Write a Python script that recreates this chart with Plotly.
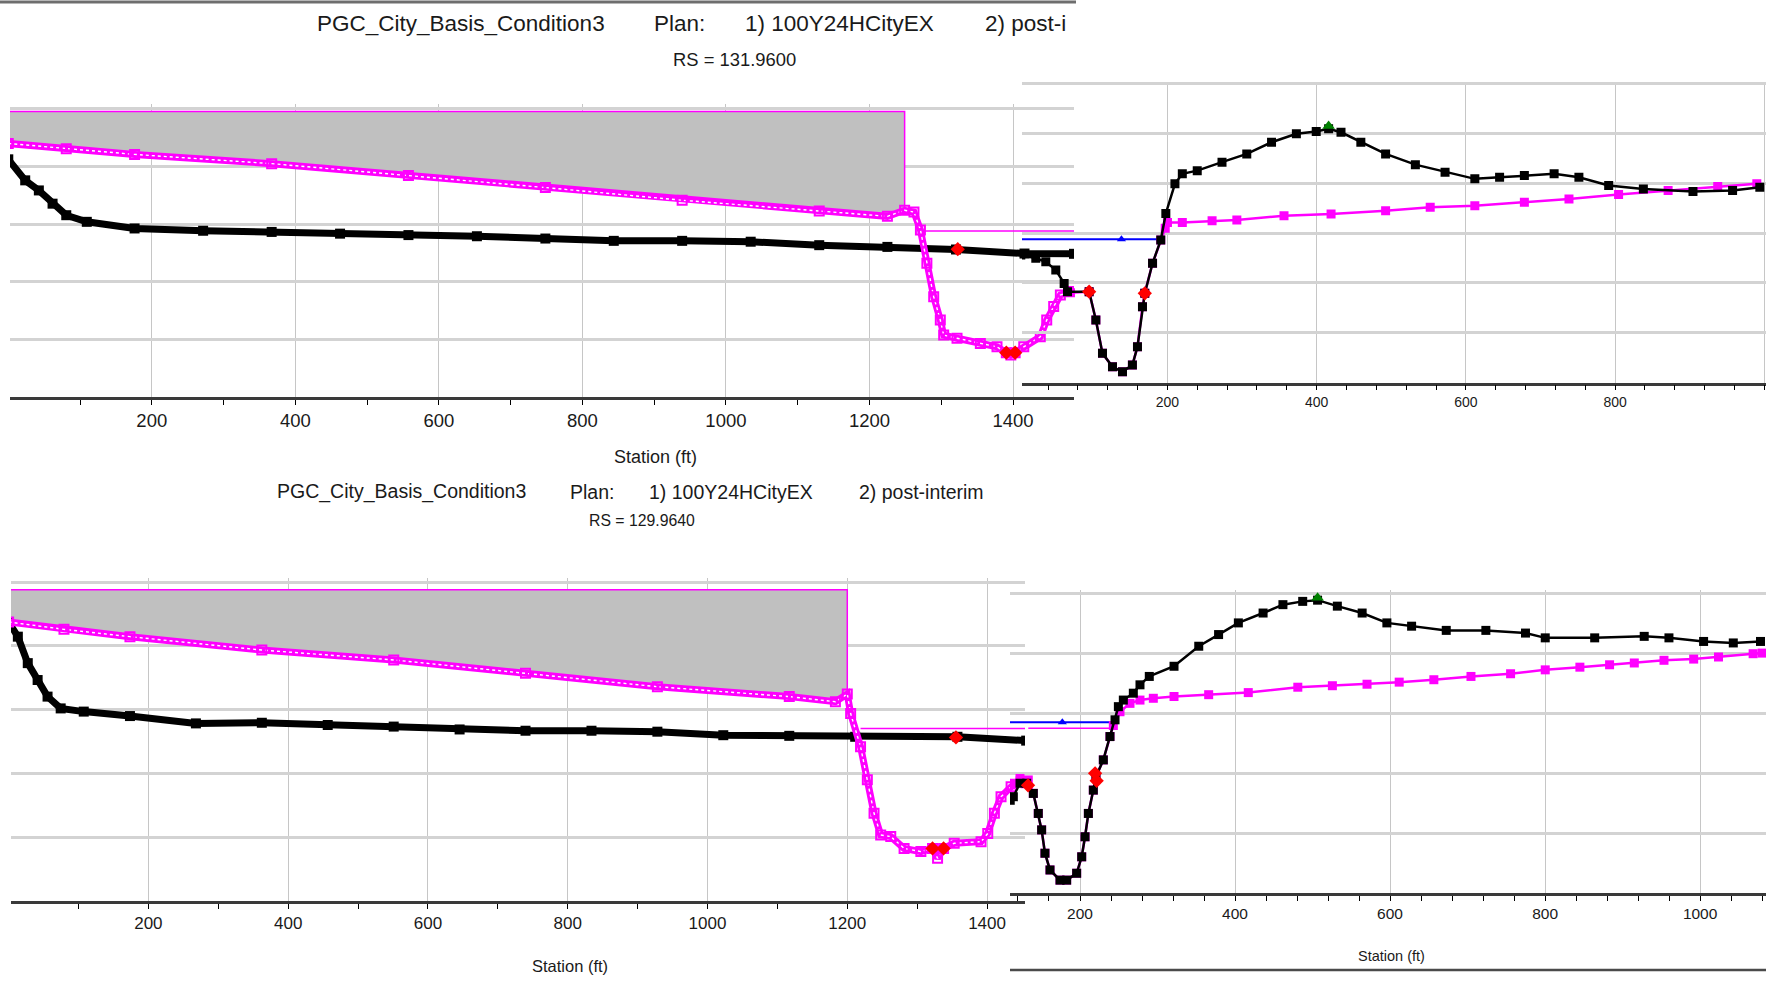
import plotly.graph_objects as go

W, H = 1776, 981

# ================= RS = 131.9600 (upper pair of panels) =================
# upper-left panel: existing ground (plan 1) and post-interim ground (plan 2)
tl_ex_sta = [0, 23.6, 42.6, 61.7, 80.8, 109.4, 176, 271.5, 367, 462.3, 557.6, 653, 748.4,
             843.7, 939, 1034.5, 1130, 1225, 1320.6, 1416, 1485]
tl_ex_elev = [142.25, 141.52, 141.17, 140.71, 140.31, 140.08, 139.85, 139.77, 139.73, 139.67,
              139.62, 139.58, 139.50, 139.42, 139.42, 139.39, 139.27, 139.21, 139.12, 138.98, 138.97]
tl_pi_sta = [0, 80.8, 176, 367, 557.6, 748.4, 939, 1130, 1225, 1249, 1262, 1271, 1280, 1289.5,
             1298.7, 1303.4, 1322, 1354.5, 1377.7, 1390.7, 1397, 1403, 1415, 1438, 1447, 1456.7,
             1466, 1480, 1485]
tl_pi_elev = [142.80, 142.62, 142.42, 142.10, 141.69, 141.27, 140.83, 140.46, 140.27, 140.48,
              140.42, 139.80, 138.64, 137.48, 136.67, 136.15, 136.04, 135.86, 135.74, 135.54,
              135.46, 135.54, 135.74, 136.09, 136.67, 137.14, 137.54, 137.66, 137.66]
tl_obs_end = 1249
tl_obs_top = 143.91
tl_ws_sta = [1271, 1485]
tl_ws_elev = [139.76, 139.76]
tl_bank_sta = [1323, 1390.7, 1403]
tl_bank_elev = [139.13, 135.54, 135.54]

# upper-right panel
tr_ex_sta = [3.4, 23.5, 36.9, 50.3, 61.5, 66, 95, 104, 112.9, 126.3, 139.7, 153, 159.8, 166.5,
             169.6, 180, 191, 197.8, 210, 219.9, 239.9, 273.1, 306.3, 339.5, 372.8, 399.4, 416,
             432.6, 459.2, 492.4, 532.3, 572.1, 612, 645.2, 678.4, 718.3, 751.5, 791.4, 837.9,
             904.4, 957.5, 994]
tr_ex_elev = [139.12, 138.99, 138.85, 138.52, 137.98, 137.65, 137.65, 136.51, 135.17, 134.63,
              134.43, 134.70, 135.44, 137.04, 137.58, 138.79, 139.72, 140.79, 141.98, 142.38,
              142.51, 142.85, 143.18, 143.65, 143.99, 144.08, 144.19, 144.05, 143.65, 143.18,
              142.75, 142.45, 142.18, 142.24, 142.31, 142.38, 142.24, 141.91, 141.77, 141.67,
              141.71, 141.84]
tr_pi_sta = [70, 95, 104, 112.9, 126.3, 139.7, 153, 159.8, 166.5, 169.6, 180, 191, 197, 200,
             219.9, 259.8, 293, 356.2, 419.3, 492.4, 552.2, 612, 678.4, 738.2, 804.7, 871.1,
             937.6, 990]
tr_pi_elev = [137.60, 137.65, 136.51, 135.17, 134.63, 134.43, 134.70, 135.44, 137.04, 137.58,
              138.79, 139.72, 140.20, 140.43, 140.43, 140.50, 140.53, 140.70, 140.77, 140.90,
              141.04, 141.10, 141.24, 141.37, 141.55, 141.71, 141.87, 141.98]
tr_ws_sta = [3.4, 191]
tr_ws_elev = [139.75, 139.75]
tr_ws_mark_sta = [138.3]
tr_bank_sta = [95, 169.6]
tr_bank_elev = [137.65, 137.58]
tr_lev_sta = [416]
tr_lev_elev = [144.30]

# ================= RS = 129.9640 (lower pair of panels) =================
bl_ex_sta = [0, 13.2, 27.4, 41.5, 55.7, 74.5, 107.5, 173.6, 268, 362.3, 456.6, 551, 645.3,
             739.6, 834, 928.3, 1022.6, 1117, 1211.3, 1357.6, 1456]
bl_ex_elev = [138.75, 138.29, 137.46, 136.93, 136.41, 136.04, 135.94, 135.80, 135.57, 135.59,
              135.52, 135.47, 135.38, 135.34, 135.34, 135.31, 135.20, 135.18, 135.15, 135.15, 135.03]
bl_pi_sta = [0, 79.2, 173.6, 362.3, 551, 739.6, 928.3, 1117, 1183, 1200, 1204.8, 1219, 1228.7,
             1238.3, 1247.8, 1262.2, 1281.3, 1305.3, 1322, 1329.2, 1337.8, 1353, 1391.4, 1401,
             1410.5, 1420, 1434.4, 1448.8, 1456]
bl_pi_elev = [138.75, 138.52, 138.29, 137.87, 137.56, 137.14, 136.72, 136.41, 136.25, 136.49,
              135.88, 134.84, 133.80, 132.75, 132.07, 132.02, 131.65, 131.55, 131.65, 131.34,
              131.65, 131.81, 131.86, 132.12, 132.75, 133.27, 133.58, 133.74, 133.71]
bl_obs_end = 1200
bl_obs_top = 139.76
bl_ws_sta = [1219, 1456]
bl_ws_elev = [135.41, 135.41]
bl_bank_sta = [1355.5, 1322, 1337.8]
bl_bank_elev = [135.13, 131.65, 131.65]

br_ex_sta = [110, 114, 122.6, 131.2, 139.8, 146.2, 150.5, 154.8, 161.3, 174.2, 182.8, 195.7,
             202.2, 206.5, 210.8, 217.2, 220.6, 230.1, 238.7, 245.2, 249.5, 255.9, 268.8, 277.4,
             289.4, 321.3, 353.2, 378.8, 404.3, 436.2, 461.8, 487.3, 506.5, 532, 564, 595.9,
             627.8, 672.5, 723.6, 774.7, 800.2, 864, 927.9, 959.8, 1004.5, 1042.8, 1077.9]
br_ex_elev = [133.10, 133.22, 133.67, 133.67, 133.33, 132.66, 132.11, 131.33, 130.77, 130.43,
              130.43, 130.66, 131.21, 131.88, 132.66, 133.44, 133.89, 134.45, 135.23, 135.79,
              136.23, 136.45, 136.68, 136.96, 137.24, 137.58, 138.25, 138.64, 139.03, 139.36,
              139.64, 139.75, 139.79, 139.59, 139.36, 139.03, 138.92, 138.78, 138.78, 138.69,
              138.53, 138.53, 138.58, 138.53, 138.41, 138.36, 138.41]
br_pi_sta = [105.4, 114, 122.6, 133.3, 139.8, 146.2, 150.5, 154.8, 161.3, 174.2, 182.8, 195.7,
             202.2, 206.5, 210.8, 217.2, 220.6, 230.1, 238.7, 243, 251.6, 264.5, 277.4, 294.6,
             321.3, 366, 417.1, 481, 525.6, 570.3, 611.8, 656.5, 704.4, 755.5, 800.2, 844.9,
             883.2, 915.1, 953.4, 991.7, 1023.7, 1068.4, 1080]
br_pi_elev = [133.22, 133.67, 133.83, 133.78, 133.33, 132.66, 132.11, 131.33, 130.77, 130.43,
              130.43, 130.66, 131.21, 131.88, 132.66, 133.44, 133.89, 134.45, 135.23, 135.60,
              136.06, 136.34, 136.45, 136.51, 136.57, 136.63, 136.70, 136.88, 136.93, 136.98,
              137.05, 137.13, 137.24, 137.33, 137.46, 137.55, 137.63, 137.69, 137.78, 137.82,
              137.89, 138.00, 138.02]
br_ws_sta = [109.7, 246.5]
br_ws_elev = [135.71, 135.71]
br_ws_mark_sta = [177.2]
br_pws_sta = [133.3, 238.7]
br_pws_elev = [135.51, 135.51]
br_bank_sta = [133, 219.5, 221.5]
br_bank_elev = [133.60, 134.00, 133.75]
br_lev_sta = [506.5]
br_lev_elev = [139.87]

# texts
project = "PGC_City_Basis_Condition3"
plan_lbl = "Plan:"
plan1 = "1) 100Y24HCityEX"
plan2_full = "2) post-interim"
plan2_cut = "2) post-i"
rs_top = "RS = 131.9600"
rs_bot = "RS = 129.9640"
xtitle = "Station (ft)"

# ======================= figure =======================
MAG = '#ff00ff'
GRAY = '#c0c0c0'
FONT = "Liberation Sans, Arial, sans-serif"
TXT = '#1a1a1a'

fig = go.Figure()


def fx(px):
    return px / W


def fy(py):
    return 1 - py / H


def obstruction(sta, elev, end, top, xa, ya):
    gs = [s for s in sta if s <= end]
    ge = elev[:len(gs)]
    px = [0, end] + gs[::-1]
    py = [top, top] + ge[::-1]
    fig.add_trace(go.Scatter(x=px, y=py, xaxis=xa, yaxis=ya, mode='lines', fill='toself',
                             fillcolor=GRAY, line=dict(color=MAG, width=1.5), hoverinfo='skip'))


def ws(sta, elev, xa, ya, color, width=1.6):
    fig.add_trace(go.Scatter(x=sta, y=elev, xaxis=xa, yaxis=ya, mode='lines',
                             line=dict(color=color, width=width)))


def dense_ground(sta, elev, xa, ya, color, hollow=False):
    if hollow:
        fig.add_trace(go.Scatter(x=sta, y=elev, xaxis=xa, yaxis=ya, mode='lines',
                                 line=dict(color=color, width=7)))
        fig.add_trace(go.Scatter(x=sta, y=elev, xaxis=xa, yaxis=ya, mode='lines',
                                 line=dict(color='white', width=1.4, dash='dot')))
        fig.add_trace(go.Scatter(x=sta, y=elev, xaxis=xa, yaxis=ya, mode='markers',
                                 marker=dict(symbol='square-open', size=9, color=color,
                                             line=dict(width=2, color=color))))
    else:
        fig.add_trace(go.Scatter(x=sta, y=elev, xaxis=xa, yaxis=ya, mode='lines+markers',
                                 line=dict(color=color, width=7),
                                 marker=dict(symbol='square', size=10, color=color)))


def sparse_ground(sta, elev, xa, ya, color):
    fig.add_trace(go.Scatter(x=sta, y=elev, xaxis=xa, yaxis=ya, mode='lines+markers',
                             line=dict(color=color, width=2.5),
                             marker=dict(symbol='square', size=9, color=color)))


def points(sta, elev, xa, ya, symbol, color, size):
    fig.add_trace(go.Scatter(x=sta, y=elev, xaxis=xa, yaxis=ya, mode='markers',
                             marker=dict(symbol=symbol, size=size, color=color)))


# ---- upper-left
obstruction(tl_pi_sta, tl_pi_elev, tl_obs_end, tl_obs_top, 'x', 'y')
ws(tl_ws_sta, tl_ws_elev, 'x', 'y', MAG)
dense_ground(tl_ex_sta, tl_ex_elev, 'x', 'y', 'black')
dense_ground(tl_pi_sta, tl_pi_elev, 'x', 'y', MAG, hollow=True)
points(tl_bank_sta, tl_bank_elev, 'x', 'y', 'diamond', 'red', 11)

# ---- upper-right
ws(tr_ws_sta, tr_ws_elev, 'x2', 'y2', '#0000ff', 2)
points(tr_ws_mark_sta, [tr_ws_elev[0]], 'x2', 'y2', 'triangle-up', '#0000ff', 8)
sparse_ground(tr_pi_sta, tr_pi_elev, 'x2', 'y2', MAG)
sparse_ground(tr_ex_sta, tr_ex_elev, 'x2', 'y2', 'black')
points(tr_bank_sta, tr_bank_elev, 'x2', 'y2', 'diamond', 'red', 11)
points(tr_lev_sta, tr_lev_elev, 'x2', 'y2', 'triangle-up', '#008000', 11)

# ---- lower-left
obstruction(bl_pi_sta, bl_pi_elev, bl_obs_end, bl_obs_top, 'x3', 'y3')
ws(bl_ws_sta, bl_ws_elev, 'x3', 'y3', MAG)
dense_ground(bl_ex_sta, bl_ex_elev, 'x3', 'y3', 'black')
dense_ground(bl_pi_sta, bl_pi_elev, 'x3', 'y3', MAG, hollow=True)
points(bl_bank_sta, bl_bank_elev, 'x3', 'y3', 'diamond', 'red', 11)

# ---- lower-right
ws(br_pws_sta, br_pws_elev, 'x4', 'y4', MAG)
ws(br_ws_sta, br_ws_elev, 'x4', 'y4', '#0000ff', 2)
points(br_ws_mark_sta, [br_ws_elev[0]], 'x4', 'y4', 'triangle-up', '#0000ff', 8)
sparse_ground(br_pi_sta, br_pi_elev, 'x4', 'y4', MAG)
sparse_ground(br_ex_sta, br_ex_elev, 'x4', 'y4', 'black')
points(br_bank_sta, br_bank_elev, 'x4', 'y4', 'diamond', 'red', 11)
points(br_lev_sta, br_lev_elev, 'x4', 'y4', 'triangle-up', '#008000', 11)


def xax(dom, rng, minor_dt, anchor, fsize):
    return dict(domain=[fx(dom[0]), fx(dom[1])], range=rng, anchor=anchor,
                showgrid=True, gridcolor='#c6c6c6', gridwidth=1,
                tick0=0, dtick=200, ticks='outside', ticklen=5, tickwidth=1, tickcolor='black',
                showline=True, linecolor='#3a3a3a', linewidth=2.5, zeroline=False,
                tickfont=dict(family=FONT, size=fsize, color=TXT), fixedrange=True,
                minor=dict(tick0=0, dtick=minor_dt, ticks='outside', ticklen=5,
                           tickwidth=1, tickcolor='black', showgrid=False))


def yax(dom, rng, anchor, t0):
    return dict(domain=[fy(dom[1]), fy(dom[0])], range=rng, anchor=anchor,
                showgrid=True, gridcolor='#d3d3d3', gridwidth=2.5,
                tick0=t0, dtick=2, showticklabels=False, ticks='', zeroline=False,
                showline=False, fixedrange=True)


fig.update_layout(
    width=W, height=H, margin=dict(l=0, r=0, t=0, b=0),
    paper_bgcolor='white', plot_bgcolor='rgba(0,0,0,0)', showlegend=False,
    xaxis=xax((10, 1074), [2.4, 1485], 100, 'y', 18.5),
    yaxis=yax((104, 397), [134, 144.17], 'x', 134),
    xaxis2=xax((1022, 1766), [5.0, 1002.3], 40, 'y2', 14),
    yaxis2=yax((82, 382.5), [134, 146.07], 'x2', 134),
    xaxis3=xax((11, 1025), [3.4, 1454.3], 100, 'y3', 17),
    yaxis3=yax((578, 901), [130, 140.13], 'x3', 130),
    xaxis4=xax((1010, 1766), [109.7, 1085], 40, 'y4', 15.5),
    yaxis4=yax((590, 893), [130, 140.13], 'x4', 130),
)


def ann(text, xpx, ypx, size, xanchor='left'):
    fig.add_annotation(text=text, x=fx(xpx), y=fy(ypx), xref='paper', yref='paper',
                       xanchor=xanchor, yanchor='middle', showarrow=False,
                       font=dict(family=FONT, size=size, color=TXT))


# upper titles
ann(project, 315, 23.5, 22.5)
ann(plan_lbl, 652, 23.5, 22.5)
ann(plan1, 743, 23.5, 22.5)
ann(plan2_cut, 983, 23.5, 22.5)
ann(rs_top, 734, 59, 18.4, 'center')
ann(xtitle, 655, 457, 18, 'center')
# lower titles
ann(project, 275, 491.5, 19.5)
ann(plan_lbl, 568, 491.5, 19.5)
ann(plan1, 647, 491.5, 19.5)
ann(plan2_full, 857, 491.5, 19.5)
ann(rs_bot, 642, 520.5, 15.8, 'center')
ann(xtitle, 570, 966, 16.5, 'center')
ann(xtitle, 1391, 956, 14.5, 'center')

# frame lines of the pasted images
fig.add_shape(type='line', xref='paper', yref='paper', x0=0, x1=fx(1076), y0=fy(2), y1=fy(2),
              line=dict(color='#6e6e6e', width=3))
fig.add_shape(type='line', xref='paper', yref='paper', x0=fx(1010), x1=fx(1766), y0=fy(970),
              y1=fy(970), line=dict(color='#4a4a4a', width=2.5))

fig.write_html("out.html")
